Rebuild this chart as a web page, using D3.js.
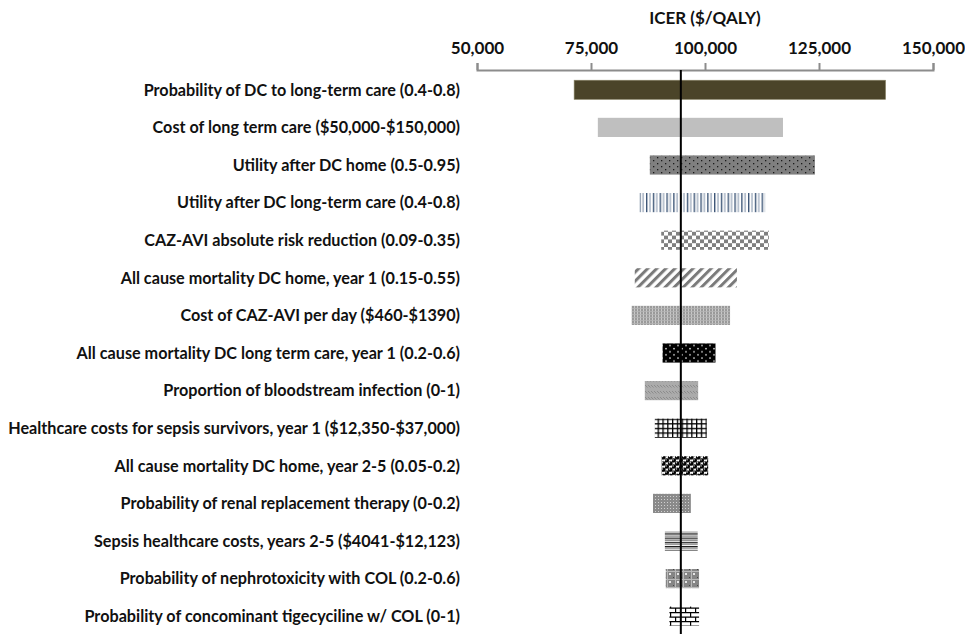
<!DOCTYPE html>
<html>
<head>
<meta charset="utf-8">
<script src="https://cdn.jsdelivr.net/npm/d3@7"></script>
<style>
  html, body { margin: 0; padding: 0; background: #fff; }
  svg { display: block; font-family: Lato, "Open Sans", sans-serif; }
</style>
</head>
<body>
<svg id="chart" width="965" height="634"></svg>
<script>
// Tornado diagram: one-way sensitivity of the ICER ($/QALY)
const parameters = [
  "Probability of DC to long-term care (0.4-0.8)",
  "Cost of long term care ($50,000-$150,000)",
  "Utility after DC home (0.5-0.95)",
  "Utility after DC long-term care (0.4-0.8)",
  "CAZ-AVI absolute risk reduction (0.09-0.35)",
  "All cause mortality DC home, year 1 (0.15-0.55)",
  "Cost of CAZ-AVI per day ($460-$1390)",
  "All cause mortality DC long term care, year 1 (0.2-0.6)",
  "Proportion of bloodstream infection (0-1)",
  "Healthcare costs for sepsis survivors, year 1 ($12,350-$37,000)",
  "All cause mortality DC home, year 2-5 (0.05-0.2)",
  "Probability of renal replacement therapy (0-0.2)",
  "Sepsis healthcare costs, years 2-5 ($4041-$12,123)",
  "Probability of nephrotoxicity with COL (0.2-0.6)",
  "Probability of concominant tigecyciline w/ COL (0-1)"
];
const lowICER  = [71300, 76500, 87900, 85700, 90400, 84600, 83900, 90700, 86800, 89000, 90500, 88600, 91200, 91400, 92200];
const highICER = [139600, 117100, 124100, 113200, 114000, 107000, 105500, 102300, 98500, 100400, 100700, 96900, 98400, 98700, 98700];
const baseICER = 94700;
const tickValues = [50000, 75000, 100000, 125000, 150000];
const axisTitle = "ICER ($/QALY)";

const svg = d3.select("#chart");
const x = d3.scaleLinear().domain([50000, 150000]).range([477, 933]);
const y = d3.scaleBand().domain(d3.range(parameters.length)).range([71, 635]).paddingInner(0.49).paddingOuter(0.245);

// ---- fill patterns ----
const defs = svg.append("defs");
function pat(id, w, h, bg, draw, transform) {
  const p = defs.append("pattern").attr("id", id).attr("patternUnits", "userSpaceOnUse")
    .attr("width", w).attr("height", h);
  if (transform) p.attr("patternTransform", transform);
  p.append("rect").attr("width", w).attr("height", h).attr("fill", bg);
  draw(p);
}
// dotted gray
pat("p3", 8, 6, "#7f7f7f", p => {
  p.append("rect").attr("x", 1).attr("y", 1).attr("width", 1.3).attr("height", 1.3).attr("fill", "#1a1a1a");
  p.append("rect").attr("x", 5).attr("y", 4).attr("width", 1.3).attr("height", 1.3).attr("fill", "#1a1a1a");
});
// vertical blue stripes
pat("p4", 6.8, 10, "#fff", p => {
  p.append("rect").attr("x", 0).attr("width", 1.4).attr("height", 10).attr("fill", "#3d5677");
  p.append("rect").attr("x", 3.4).attr("width", 1.1).attr("height", 10).attr("fill", "#8797ad");
});
// checkerboard
pat("p5", 8, 7.6, "#fff", p => {
  p.append("rect").attr("width", 4).attr("height", 3.8).attr("fill", "#808080");
  p.append("rect").attr("x", 4).attr("y", 3.8).attr("width", 4).attr("height", 3.8).attr("fill", "#808080");
});
// wide upward diagonal
pat("p6", 6.4, 10, "#fff", p => {
  p.append("rect").attr("width", 3).attr("height", 10).attr("fill", "#7a7a7a");
}, "rotate(45)");
// fine woven texture
pat("p7", 3, 3, "#9a9a9a", p => {
  p.append("rect").attr("x", 1).attr("y", 0).attr("width", 1).attr("height", 3).attr("fill", "#c8c8c8");
  p.append("rect").attr("x", 0).attr("y", 2).attr("width", 3).attr("height", 0.8).attr("fill", "#b4b4b4");
});
// black with white dots
pat("p8", 8, 6.2, "#000", p => {
  p.append("circle").attr("cx", 2).attr("cy", 1.5).attr("r", 0.75).attr("fill", "#fff");
  p.append("circle").attr("cx", 6).attr("cy", 4.6).attr("r", 0.75).attr("fill", "#fff");
});
// light gray with dashed diagonal
pat("p9", 6, 6, "#ababab", p => {
  p.append("path").attr("d", "M0,1 L2.5,3.5 M3,1 L5.5,3.5").attr("stroke", "#8c8c8c").attr("stroke-width", 1);
});
// black grid
pat("p10", 4.8, 4.6, "#fff", p => {
  p.append("rect").attr("width", 1.3).attr("height", 4.6).attr("fill", "#000");
  p.append("rect").attr("width", 4.8).attr("height", 1.3).attr("fill", "#000");
});
// spheres
pat("p11", 7, 6.2, "#fff", p => {
  [[1.75, 1.55], [5.25, 4.65]].forEach(([cx, cy]) => {
    p.append("circle").attr("cx", cx).attr("cy", cy).attr("r", 2.3).attr("fill", "#000");
    p.append("circle").attr("cx", cx - 0.7).attr("cy", cy - 0.7).attr("r", 0.7).attr("fill", "#fff");
  });
  [[-1.75, 4.65], [8.75, 4.65], [5.25, -1.55], [1.75, 7.75]].forEach(([cx, cy]) => {
    p.append("circle").attr("cx", cx).attr("cy", cy).attr("r", 2.3).attr("fill", "#000");
  });
});
// small dotted gray
pat("p12", 3, 3, "#8a8a8a", p => {
  p.append("rect").attr("x", 1).attr("y", 1).attr("width", 1).attr("height", 1).attr("fill", "#d0d0d0");
});
// narrow horizontal lines
pat("p13", 6, 4.2, "#fff", p => {
  p.append("rect").attr("y", 0).attr("width", 6).attr("height", 1.2).attr("fill", "#111");
  p.append("rect").attr("y", 2.1).attr("width", 6).attr("height", 1.1).attr("fill", "#777");
});
// plaid
pat("p14", 8, 8, "#858585", p => {
  p.append("rect").attr("x", 0).attr("y", 3).attr("width", 8).attr("height", 1).attr("fill", "#b8b8b8");
  p.append("rect").attr("x", 3).attr("y", 0).attr("width", 1).attr("height", 8).attr("fill", "#b8b8b8");
  p.append("rect").attr("x", 5).attr("y", 5).attr("width", 2).attr("height", 2).attr("fill", "#e6e6e6");
  p.append("rect").attr("x", 1).attr("y", 1).attr("width", 1).attr("height", 1).attr("fill", "#444");
});
// bricks
pat("p15", 10, 9, "#fff", p => {
  p.append("path")
    .attr("d", "M0,0.6 H10 M0,5.1 H10 M0.6,0.6 V5.1 M5.6,5.1 V9")
    .attr("stroke", "#000").attr("stroke-width", 1.2).attr("fill", "none");
});

const fills = ["#4b4429", "#bfbfbf", "url(#p3)", "url(#p4)", "url(#p5)", "url(#p6)", "url(#p7)",
               "url(#p8)", "url(#p9)", "url(#p10)", "url(#p11)", "url(#p12)", "url(#p13)", "url(#p14)", "url(#p15)"];

// ---- bars ----
svg.append("g").selectAll("rect")
  .data(parameters.map((p, i) => ({ p, i, lo: lowICER[i], hi: highICER[i] })))
  .join("rect")
  .attr("x", d => x(d.lo))
  .attr("y", d => y(d.i))
  .attr("width", d => x(d.hi) - x(d.lo))
  .attr("height", y.bandwidth())
  .attr("fill", d => fills[d.i])
  .attr("stroke", d => d.i === 0 ? "#8a8568" : "none")
  .attr("stroke-width", 0.6);

// ---- parameter labels ----
svg.append("g").selectAll("text")
  .data(parameters)
  .join("text")
  .attr("x", 460)
  .attr("y", (d, i) => y(i) + y.bandwidth() / 2)
  .attr("dy", "0.36em")
  .attr("text-anchor", "end")
  .attr("font-size", 16.2)
  .attr("font-weight", 700)
  .attr("fill", "#111")
  .text(d => d);

// ---- top axis ----
const axis = svg.append("g").attr("transform", "translate(0,70)")
  .call(d3.axisTop(x).tickValues(tickValues).tickSize(7).tickPadding(9).tickFormat(d3.format(",")));
axis.select(".domain").attr("stroke", "#8c8c8c").attr("stroke-width", 2);
axis.selectAll(".tick line").attr("stroke", "#8c8c8c").attr("stroke-width", 2);
axis.selectAll(".tick text").attr("font-size", 17).attr("font-weight", 700).attr("fill", "#111")
  .attr("font-family", "Lato, 'Open Sans', sans-serif");

svg.append("text")
  .attr("x", x(100000)).attr("y", 24)
  .attr("text-anchor", "middle")
  .attr("font-size", 17).attr("font-weight", 700).attr("fill", "#111")
  .text(axisTitle);

// ---- base-case reference line ----
svg.append("line")
  .attr("x1", x(baseICER)).attr("x2", x(baseICER))
  .attr("y1", 70).attr("y2", 634)
  .attr("stroke", "#000").attr("stroke-width", 2);
</script>
</body>
</html>
